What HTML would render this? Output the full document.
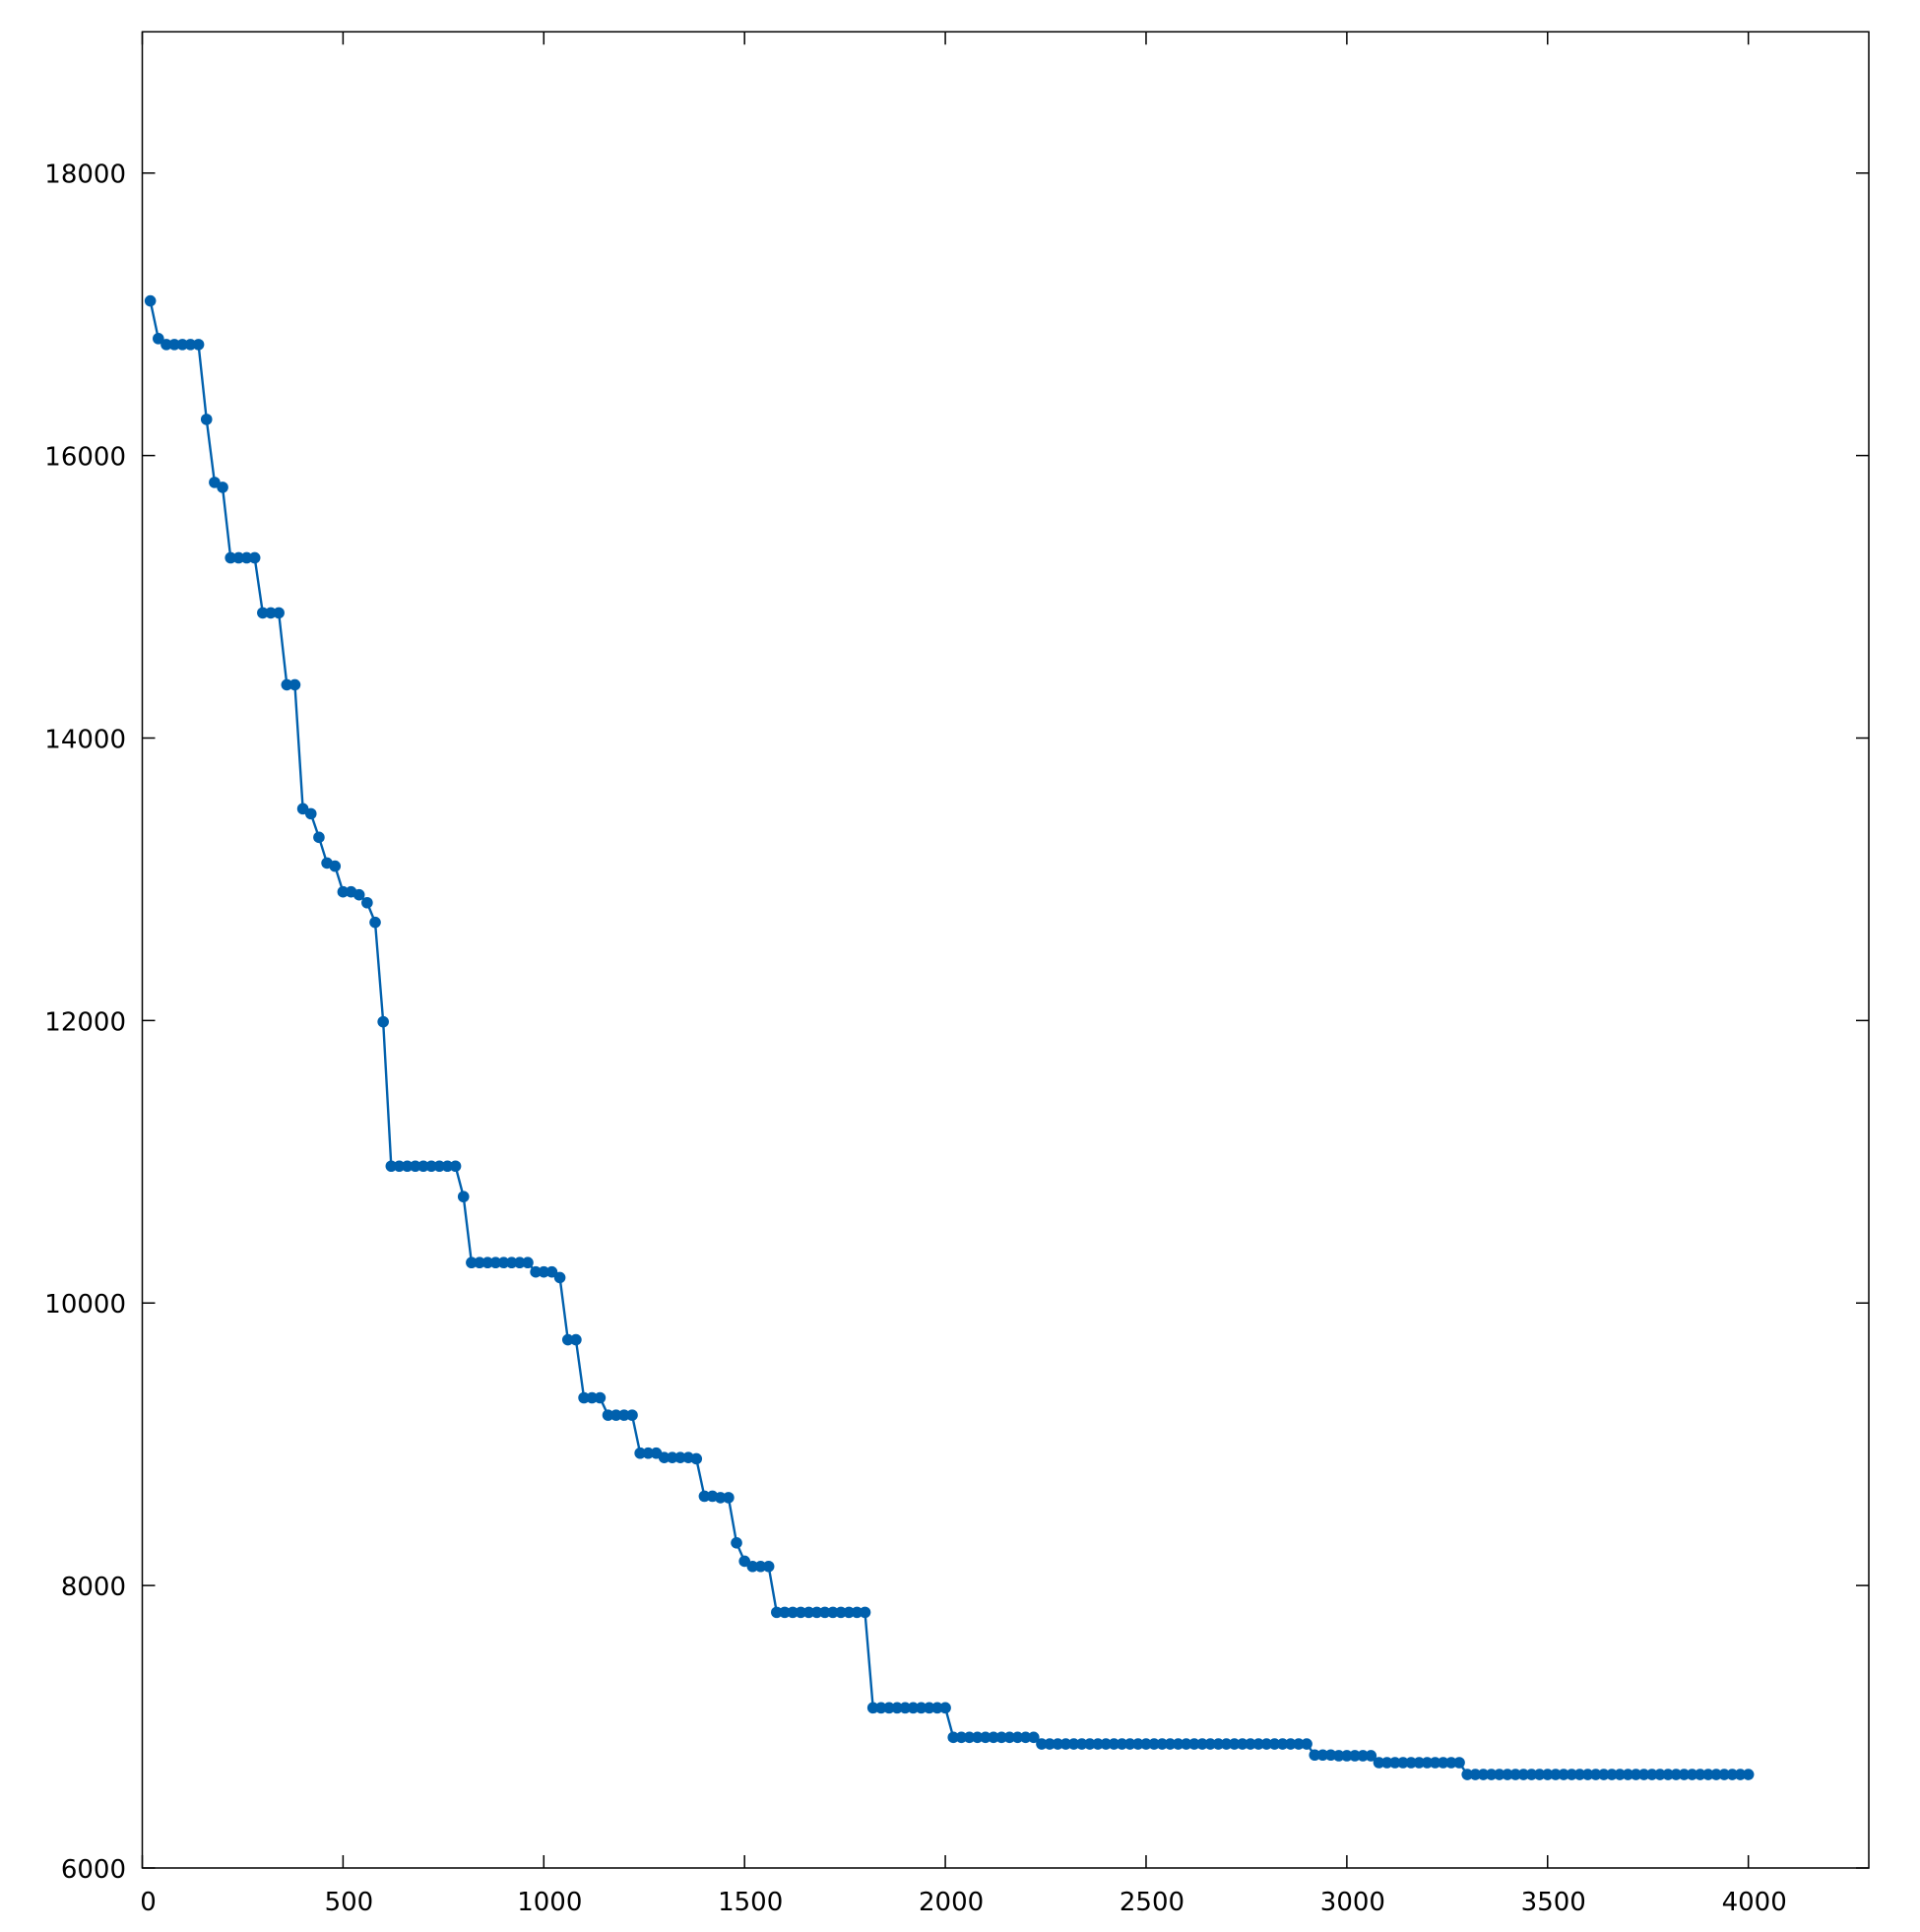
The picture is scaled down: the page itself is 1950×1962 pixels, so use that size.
<!DOCTYPE html>
<html><head><meta charset="utf-8"><style>
html,body{margin:0;padding:0;background:#fff;}
svg{display:block;}
text{font-family:"DejaVu Sans","Liberation Sans",sans-serif;font-size:26px;fill:#000;}
</style></head><body>
<svg id="chart" width="1950" height="1962" xmlns="http://www.w3.org/2000/svg">
<g id="axes"></g>
<g id="series"></g>
</svg>
<script>
const xTicks = [0,500,1000,1500,2000,2500,3000,3500,4000];
const yTicks = [6000,8000,10000,12000,14000,16000,18000];
const runValues = [17095,16828,16786,16256,15810,15775,15276,14886,14377,13499,13464,13297,13115,13093,12911,12890,12834,12695,11991,10969,10753,10286,10220,10180,9740,9329,9206,8937,8906,8897,8632,8622,8302,8172,8135,7810,7134,6925,6878,6800,6795,6746,6662];
const runLengths = [1,1,5,1,1,1,4,3,2,1,1,1,1,1,2,1,1,1,1,9,1,8,3,1,2,3,4,3,4,1,2,2,1,1,3,12,10,11,34,3,5,11,36];
const xStep = 20;

const L=144.5,R=1898,T=32.3,B=1897;
const xMin=0,xMax=4300,yMin=6000,yMax=19000;
const sx=v=>L+(v-xMin)/(xMax-xMin)*(R-L);
const sy=v=>B-(v-yMin)/(yMax-yMin)*(B-T);
const NS='http://www.w3.org/2000/svg';
function mk(tag,attrs,parent){const e=document.createElementNS(NS,tag);for(const k in attrs)e.setAttribute(k,attrs[k]);parent.appendChild(e);return e;}
const axes=document.getElementById('axes'), series=document.getElementById('series');

const frame=mk('rect',{x:L,y:T,width:R-L,height:B-T,fill:'none',stroke:'#000','stroke-width':1.5},axes);


const tl=13;
xTicks.forEach(v=>{
  const x=sx(v);
  const t1=mk('line',{x1:x,y1:B,x2:x,y2:B-tl,stroke:'#000','stroke-width':1.5},axes);
  
  
  const t2=mk('line',{x1:x,y1:T,x2:x,y2:T+tl,stroke:'#000','stroke-width':1.5},axes);
  
  
  const lb=mk('text',{x:x+6,y:B+43,'text-anchor':'middle'},axes);
  lb.textContent=v;
  
  
});
yTicks.forEach(v=>{
  const y=sy(v);
  const t1=mk('line',{x1:L,y1:y,x2:L+tl,y2:y,stroke:'#000','stroke-width':1.5},axes);
  
  
  const t2=mk('line',{x1:R,y1:y,x2:R-tl,y2:y,stroke:'#000','stroke-width':1.5},axes);
  
  
  const lb=mk('text',{x:128,y:y+10,'text-anchor':'end'},axes);
  lb.textContent=v;
  
  
});

const pts=[];
let idx=0;
runValues.forEach((v,k)=>{for(let j=0;j<runLengths[k];j++){idx++;pts.push([idx*xStep,v]);}});
const line=mk('polyline',{points:pts.map(p=>sx(p[0])+','+sy(p[1])).join(' '),fill:'none',stroke:'#0060ad','stroke-width':2.4},series);


pts.forEach(p=>{
  const c=mk('circle',{cx:sx(p[0]),cy:sy(p[1]),r:5.8,fill:'#0060ad'},series);
  
  
});
</script>
</body></html>
